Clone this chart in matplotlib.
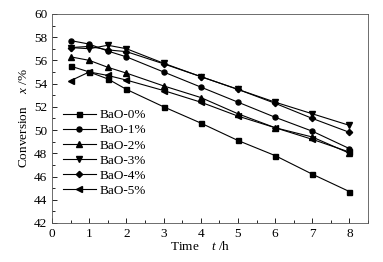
import matplotlib
matplotlib.use("Agg")
import matplotlib.pyplot as plt
from matplotlib.ticker import MultipleLocator

plt.rcParams['font.family'] = ['Liberation Serif', 'DejaVu Serif']
plt.rcParams['mathtext.fontset'] = 'custom'
plt.rcParams['mathtext.it'] = 'Liberation Serif:italic'
plt.rcParams['mathtext.rm'] = 'Liberation Serif'

time = [0.5, 1, 1.5, 2, 3, 4, 5, 6, 7, 8]
labels = ['BaO-0%', 'BaO-1%', 'BaO-2%', 'BaO-3%', 'BaO-4%', 'BaO-5%']
bao0 = [55.5, 55.0, 54.4, 53.5, 52.0, 50.6, 49.1, 47.8, 46.2, 44.7]
bao1 = [57.7, 57.4, 56.8, 56.3, 55.0, 53.7, 52.4, 51.1, 49.9, 48.4]
bao2 = [56.3, 56.0, 55.4, 54.9, 53.8, 52.8, 51.4, 50.2, 49.4, 48.0]
bao3 = [57.1, 57.0, 57.3, 57.0, 55.75, 54.6, 53.5, 52.4, 51.4, 50.4]
bao4 = [57.1, 57.2, 56.9, 56.75, 55.7, 54.6, 53.5, 52.3, 51.0, 49.8]
bao5 = [54.25, 55.0, 54.7, 54.3, 53.4, 52.4, 51.2, 50.2, 49.2, 48.1]
series = [bao0, bao1, bao2, bao3, bao4, bao5]
markers = ['s', 'o', '^', 'v', 'D', '<']
msizes = [3.6, 3.6, 3.8, 3.8, 3.2, 3.8]

fig = plt.figure(figsize=(3.83, 2.62), dpi=100)
ax = fig.add_axes([0.136, 0.149, 0.825, 0.798])

for y, lab, m, ms in zip(series, labels, markers, msizes):
    ax.plot(time, y, color='black', lw=0.8, marker=m, ms=ms, label=lab)

ax.set_xlim(0, 8.5)
ax.set_ylim(42, 60)
ax.xaxis.set_major_locator(MultipleLocator(1))
ax.xaxis.set_minor_locator(MultipleLocator(0.5))
ax.yaxis.set_major_locator(MultipleLocator(2))
ax.yaxis.set_minor_locator(MultipleLocator(1))
ax.tick_params(which='both', direction='in', labelsize=9.5, width=0.6)
ax.tick_params(which='major', length=3.5)
ax.tick_params(which='minor', length=2)
for s in ax.spines.values():
    s.set_linewidth(0.6)
    s.set_color('#555555')

ax.set_xlabel(r'Time    $t$ /h', fontsize=9.5, labelpad=1)
ax.xaxis.set_label_coords(0.47, -0.08)
ax.set_ylabel(r'Conversion    $x$ /%', fontsize=9.5, labelpad=3)

leg = ax.legend(loc='lower left', bbox_to_anchor=(0.005, 0.08), frameon=False,
                fontsize=9.5, handlelength=2.5, handletextpad=0.3,
                labelspacing=0.22, borderaxespad=0.3)

fig.savefig('out.png', dpi=100)
